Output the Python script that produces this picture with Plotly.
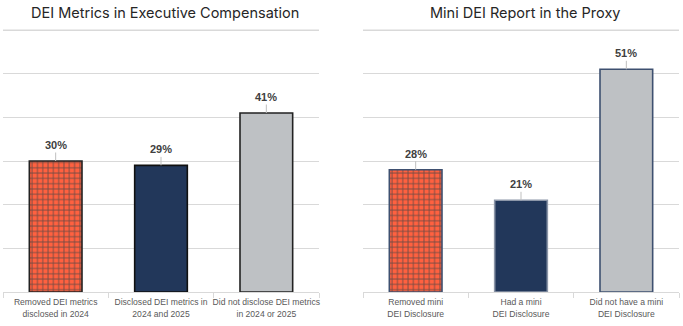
import plotly.graph_objects as go

left_title = "DEI Metrics in Executive Compensation"
right_title = "Mini DEI Report in the Proxy"
left_cats = ["Removed DEI metrics<br>disclosed in 2024", "Disclosed DEI metrics in<br>2024 and 2025",
             "Did not disclose DEI metrics<br>in 2024 or 2025"]
left_vals = [30, 29, 41]
right_cats = ["Removed mini<br>DEI Disclosure", "Had a mini<br>DEI Disclosure", "Did not have a mini<br>DEI Disclosure"]
right_vals = [28, 21, 51]
y_max = 60

W, H = 683, 326
ORANGE = "#FF6140"
NAVY = "#22375A"
GRAY = "#BEC1C4"
GRID = "#D9D9D9"

fig = go.Figure()

def add_panel(cats, vals, xa, ya, border_cols):
    fig.add_trace(go.Bar(
        x=cats, y=vals, xaxis=xa, yaxis=ya, width=0.5,
        marker=dict(
            color=[ORANGE, NAVY, GRAY],
            line=dict(color=border_cols, width=1.6),
            pattern=dict(shape=["+", "", ""], fgcolor=NAVY, bgcolor=ORANGE,
                         size=5.3, solidity=0.3, fgopacity=0.75),
        ),
        hoverinfo="skip", showlegend=False,
    ))
    for c, v in zip(cats, vals):
        fig.add_annotation(
            x=c, y=v, xref=xa, yref=ya, text=f"<b>{v}%</b>",
            showarrow=True, arrowhead=0, arrowwidth=1, arrowcolor="#BFBFBF",
            ax=0, ay=-16, standoff=0,
            font=dict(family="Liberation Sans, Arial", size=11, color="#404040"),
        )
    fig.add_shape(type="line", xref=f"{xa} domain", yref=ya, x0=0, x1=1,
                  y0=y_max, y1=y_max, line=dict(color=GRID, width=1), layer="below")

add_panel(left_cats, left_vals, "x", "y", ["#222222", "#111111", "#222222"])
add_panel(right_cats, right_vals, "x2", "y2", ["#3E5070", "#8C96A8", "#3E5070"])

ytop, ybot = 22, 292
ydom = [(H - ybot) / H, (H - ytop) / H]
yrange = [0, y_max * (ybot - ytop) / (ybot - 30)]

axis_y = dict(range=yrange, domain=ydom, showticklabels=False, showgrid=True,
              gridcolor=GRID, gridwidth=1, tick0=0, dtick=10, tickmode="linear",
              zeroline=False, showline=False, fixedrange=True)
axis_x = dict(type="category", showline=True, linecolor=GRID, linewidth=1,
              ticks="outside", ticklen=5, tickcolor=GRID, tickson="boundaries",
              tickangle=0, ticklabelstandoff=2,
              tickfont=dict(family="Liberation Sans, Arial", size=8.6, color="#595959"),
              automargin=False, showgrid=False)

fig.update_layout(
    width=W, height=H, margin=dict(l=0, r=0, t=0, b=0),
    paper_bgcolor="white", plot_bgcolor="white",
    xaxis=dict(axis_x, domain=[3 / W, 319 / W], anchor="y"),
    yaxis=dict(axis_y, anchor="x"),
    xaxis2=dict(axis_x, domain=[363 / W, 679 / W], anchor="y2"),
    yaxis2=dict(axis_y, anchor="x2"),
    bargap=0.5,
)

for txt, cx in [(left_title, 165), (right_title, 525)]:
    fig.add_annotation(text=txt, x=cx / W, y=(H - 12) / H, xref="paper", yref="paper",
                       showarrow=False, xanchor="center", yanchor="middle",
                       font=dict(family="Inter, Open Sans", size=14.5, color="#262626"))

fig.write_html("out.html")
